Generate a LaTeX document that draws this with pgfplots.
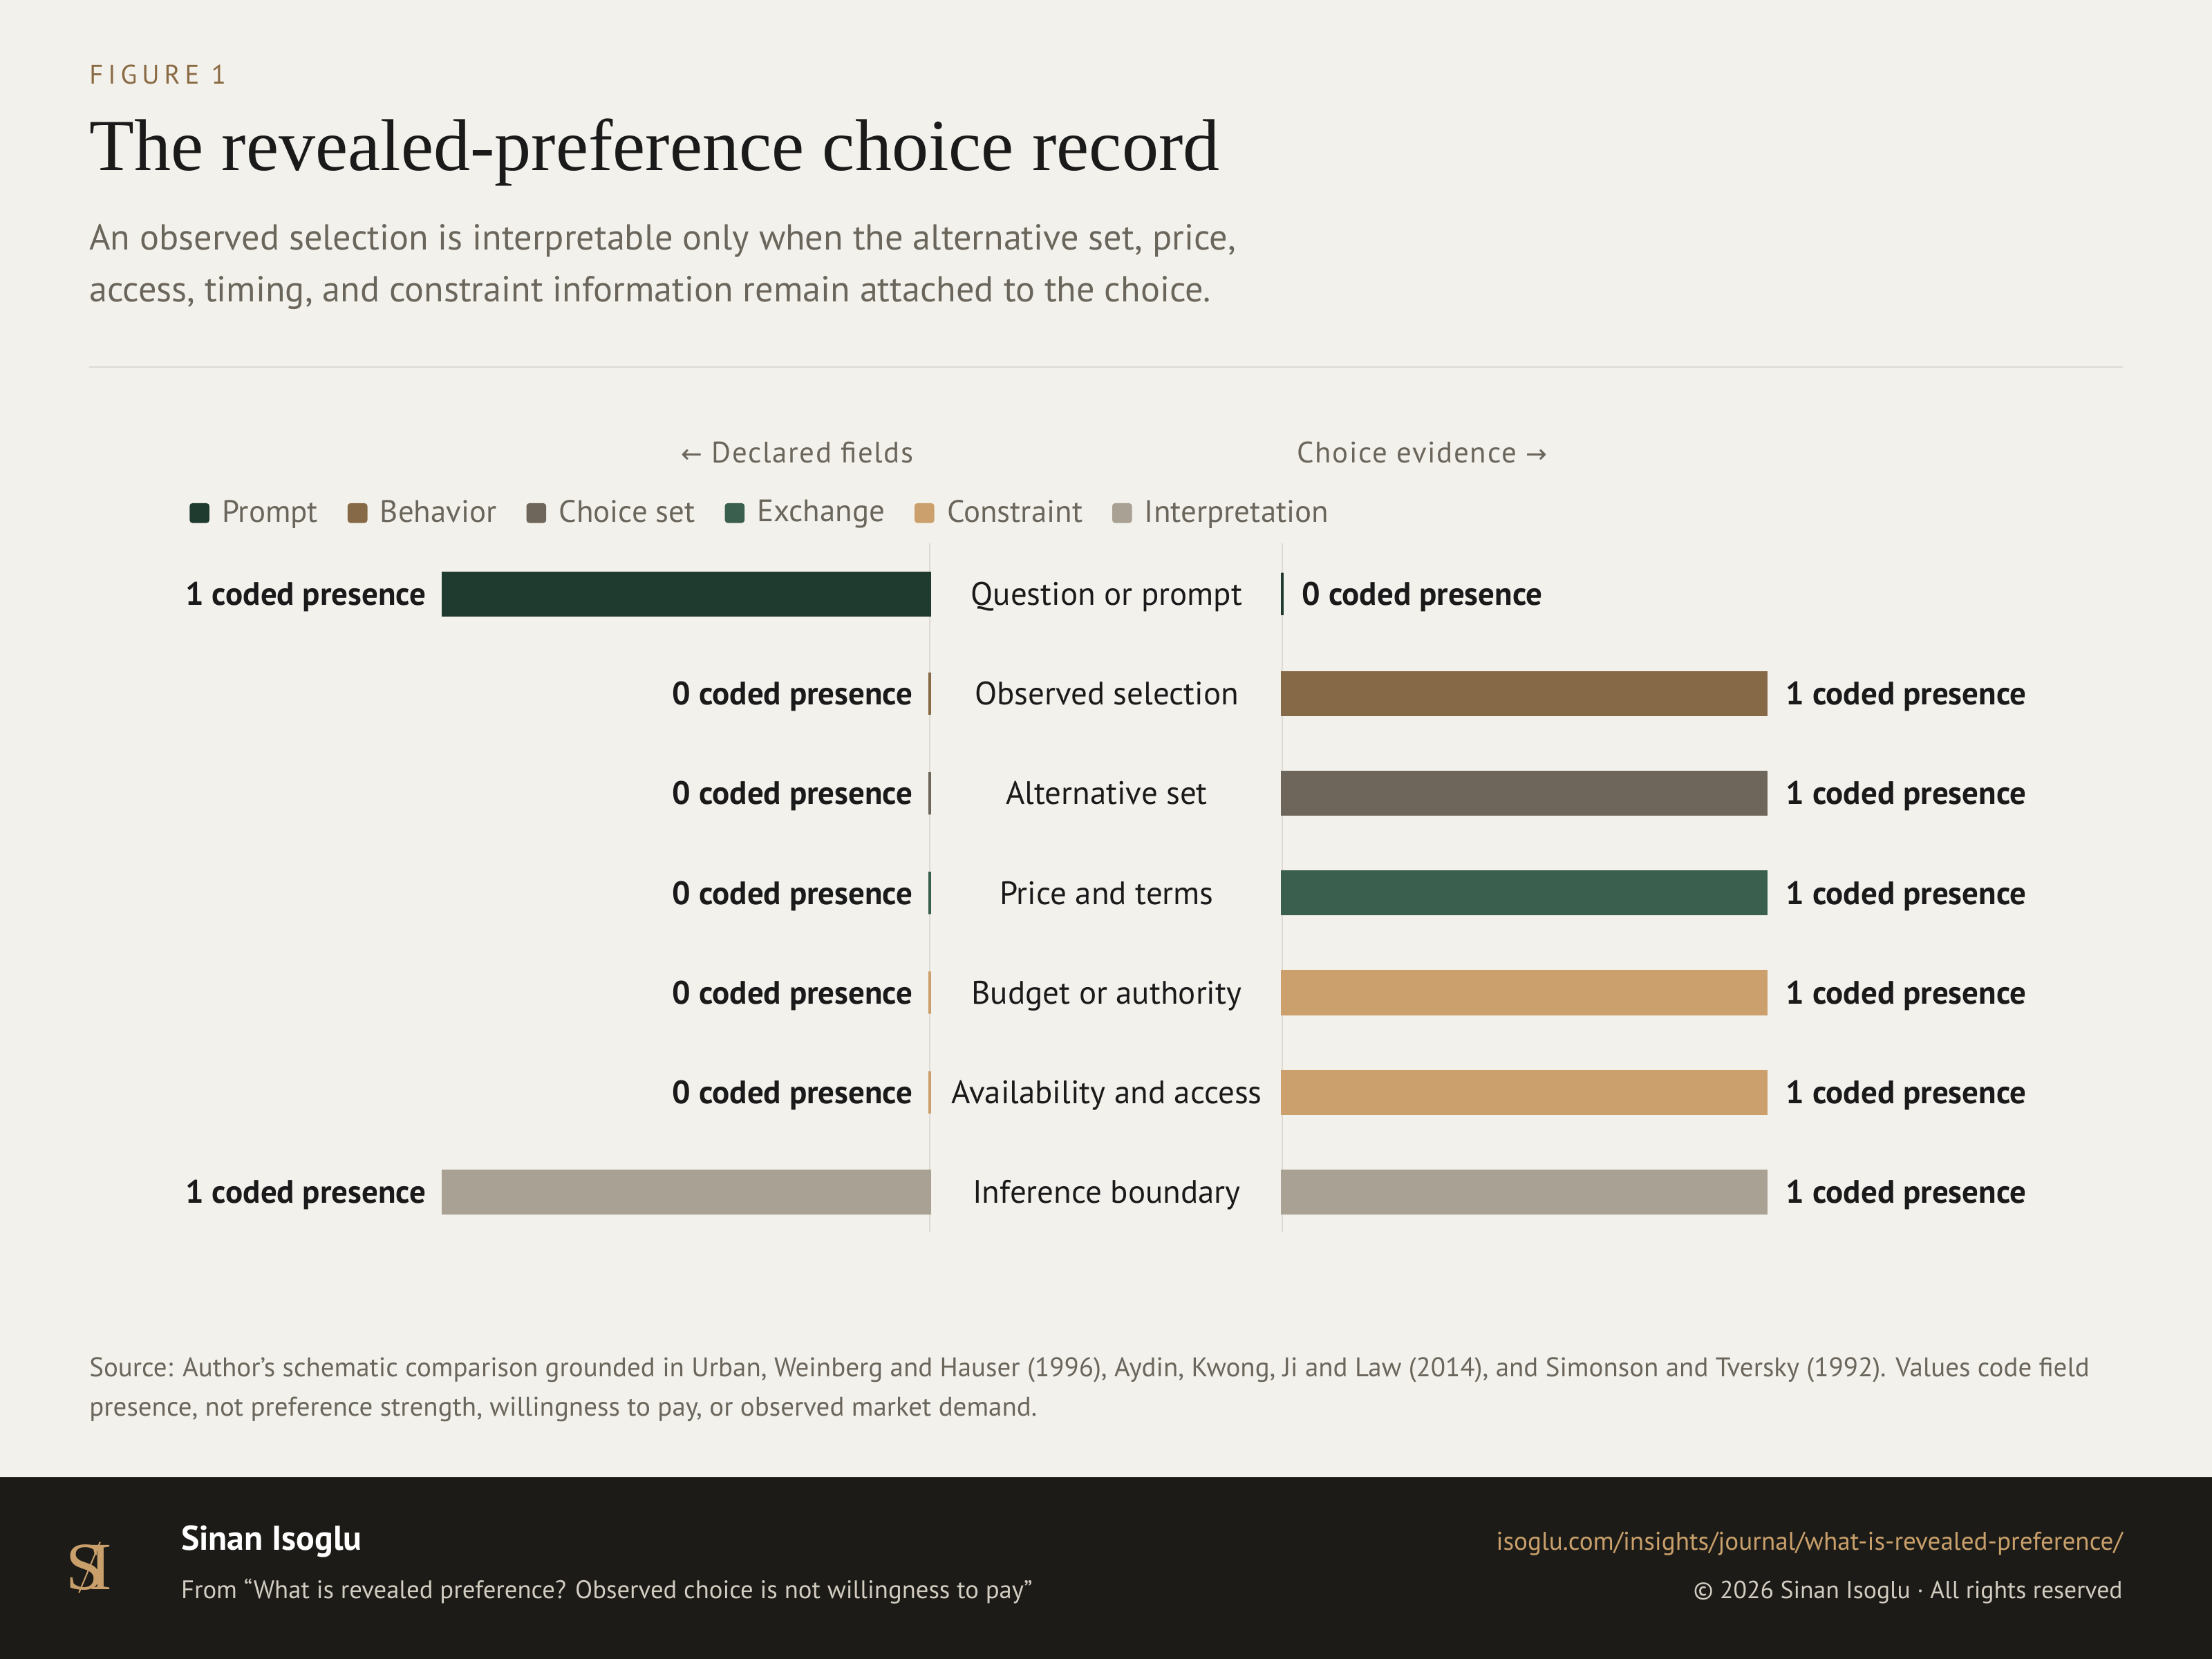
\documentclass[border=0pt]{standalone}
\usepackage{fontspec}
\usepackage{pgfplots}
\pgfplotsset{compat=1.18}
\setmainfont{PT Sans}
\newfontfamily\serif{Liberation Serif}
\newfontfamily\symb{DejaVu Sans}

\definecolor{bg}{HTML}{F3F1EC}
\definecolor{ink}{HTML}{1A1A1A}
\definecolor{muted}{HTML}{6B665C}
\definecolor{rule}{HTML}{DEDAD3}
\definecolor{figlab}{HTML}{8A6A43}
\definecolor{foot}{HTML}{1C1B17}
\definecolor{tan}{HTML}{C9A06B}
\definecolor{footmuted}{HTML}{D2CCC1}
\definecolor{cPrompt}{HTML}{1F3A2F}
\definecolor{cBehavior}{HTML}{866A47}
\definecolor{cChoice}{HTML}{6E665A}
\definecolor{cExchange}{HTML}{3A5F4E}
\definecolor{cConstraint}{HTML}{CBA06C}
\definecolor{cInterp}{HTML}{A8A194}

\pgfplotsset{
  fieldbars/.style={
    xbar, bar shift=0pt, bar width=15pt,
    height=247.3pt, scale only axis,
    xmin=0, xmax=1, ymin=-0.5, ymax=6.5, y dir=reverse,
    enlargelimits=false, clip=false,
    axis line style={draw=none}, tick style={draw=none},
    xtick=\empty,
    every axis plot/.append style={line width=1pt},
    point meta=x,
    nodes near coords={\pgfmathprintnumber[assume math mode=true]{\pgfplotspointmeta} coded presence},
    every node near coord/.append style={font=\fontsize{11.5}{13}\selectfont\bfseries, text=ink, inner sep=0pt, yshift=-4pt},
  },
}

\begin{document}
\begin{tikzpicture}[x=0.5pt, y=-0.5pt]
\fill[bg] (0,0) rectangle (1568,1176);
\useasboundingbox (0,0) rectangle (1568,1176);

% header
\node[anchor=west, inner sep=0pt, text=figlab] at (63,53)
  {\fontsize{9.5}{11}\selectfont\addfontfeatures{LetterSpace=18}FIGURE 1};
\node[anchor=base west, inner sep=0pt, text=ink] at (63,121)
  {\serif\fontsize{26}{30}\selectfont The revealed-preference choice record};
\node[anchor=base west, inner sep=0pt, text=muted] at (63,177)
  {\fontsize{12.8}{16}\selectfont An observed selection is interpretable only when the alternative set, price,};
\node[anchor=base west, inner sep=0pt, text=muted] at (63,214)
  {\fontsize{12.8}{16}\selectfont access, timing, and constraint information remain attached to the choice.};
\draw[rule, line width=0.5pt] (63,260) -- (1505,260);

% side captions
\node[anchor=base east, inner sep=0pt, text=muted] at (648,328)
  {\fontsize{10.5}{12}\selectfont\addfontfeatures{LetterSpace=4}{\symb\fontsize{9}{12}\selectfont ←} Declared fields};
\node[anchor=base west, inner sep=0pt, text=muted] at (919,328)
  {\fontsize{10.5}{12}\selectfont\addfontfeatures{LetterSpace=4}Choice evidence {\symb\fontsize{9}{12}\selectfont →}};

% separators
\draw[rule, line width=0.6pt] (659,385) -- (659,873);
\draw[rule, line width=0.6pt] (909,385) -- (909,873);

% left: declared fields
\begin{axis}[fieldbars,
  width=172.5pt,
  at={(157pt,-192.85pt)}, anchor=north west,
  x dir=reverse, ytick=\empty,
  every node near coord/.append style={anchor=base east, xshift=-5.5pt},
  legend columns=6,
  legend style={at={(-0.5217,1.0445)}, anchor=west, draw=none, fill=none,
    inner sep=0pt, font=\fontsize{11}{13}\selectfont, text=muted,
    /tikz/every even column/.append style={column sep=8.5pt},
    /tikz/every odd column/.append style={column sep=2.5pt}},
  legend cell align=left,
  legend image code/.code={\fill[#1, draw=none, rounded corners=1pt] (0pt,-3.5pt) rectangle (7pt,3.5pt);},
]
\addplot[fill=cPrompt, draw=cPrompt] coordinates {(1,0)};
\addplot[fill=cBehavior, draw=cBehavior] coordinates {(0,1)};
\addplot[fill=cChoice, draw=cChoice] coordinates {(0,2)};
\addplot[fill=cExchange, draw=cExchange] coordinates {(0,3)};
\addplot[fill=cConstraint, draw=cConstraint] coordinates {(0,4) (0,5)};
\addplot[fill=cInterp, draw=cInterp] coordinates {(1,6)};
\legend{Prompt, Behavior, Choice set, Exchange, Constraint, Interpretation}
\end{axis}

% right: choice evidence
\begin{axis}[fieldbars,
  width=171.5pt,
  at={(454.5pt,-192.85pt)}, anchor=north west,
  ytick={0,1,2,3,4,5,6},
  yticklabels={Question or prompt, Observed selection, Alternative set, Price and terms,
    Budget or authority, Availability and access, Inference boundary},
  yticklabel style={anchor=base, xshift=-58pt, yshift=-4pt, inner sep=0pt, text=ink,
    font=\fontsize{11.5}{13}\selectfont},
  every node near coord/.append style={anchor=base west, xshift=6.5pt},
]
\addplot[fill=cPrompt, draw=cPrompt] coordinates {(0,0)};
\addplot[fill=cBehavior, draw=cBehavior] coordinates {(1,1)};
\addplot[fill=cChoice, draw=cChoice] coordinates {(1,2)};
\addplot[fill=cExchange, draw=cExchange] coordinates {(1,3)};
\addplot[fill=cConstraint, draw=cConstraint] coordinates {(1,4) (1,5)};
\addplot[fill=cInterp, draw=cInterp] coordinates {(1,6)};
\end{axis}

% source note
\node[anchor=base west, inner sep=0pt, text=muted] at (63,976)
  {\fontsize{9.55}{11}\selectfont Source: Author's schematic comparison grounded in Urban, Weinberg and Hauser (1996), Aydin, Kwong, Ji and Law (2014), and Simonson and Tversky (1992). Values code field};
\node[anchor=base west, inner sep=0pt, text=muted] at (63,1004)
  {\fontsize{9.55}{11}\selectfont presence, not preference strength, willingness to pay, or observed market demand.};

% footer
\fill[foot] (0,1047) rectangle (1568,1176);
\node[inner sep=0pt, text=tan] at (63,1111)
  {\serif\fontsize{24}{24}\selectfont S\kern-5pt I};
\draw[tan, line width=0.5pt] (56,1129) -- (71,1093);
\node[anchor=base west, inner sep=0pt, text=white] at (128,1099)
  {\fontsize{12.2}{14}\selectfont\bfseries Sinan Isoglu};
\node[anchor=base west, inner sep=0pt, text=footmuted] at (128,1133)
  {\fontsize{9}{10}\selectfont From “What is revealed preference? Observed choice is not willingness to pay”};
\node[anchor=base east, inner sep=0pt, text=tan] at (1505,1099)
  {\fontsize{9.1}{10}\selectfont isoglu.com/insights/journal/what-is-revealed-preference/};
\node[anchor=base east, inner sep=0pt, text=footmuted] at (1505,1133)
  {\fontsize{8.75}{10}\selectfont © 2026 Sinan Isoglu · All rights reserved};
\end{tikzpicture}
\end{document}
